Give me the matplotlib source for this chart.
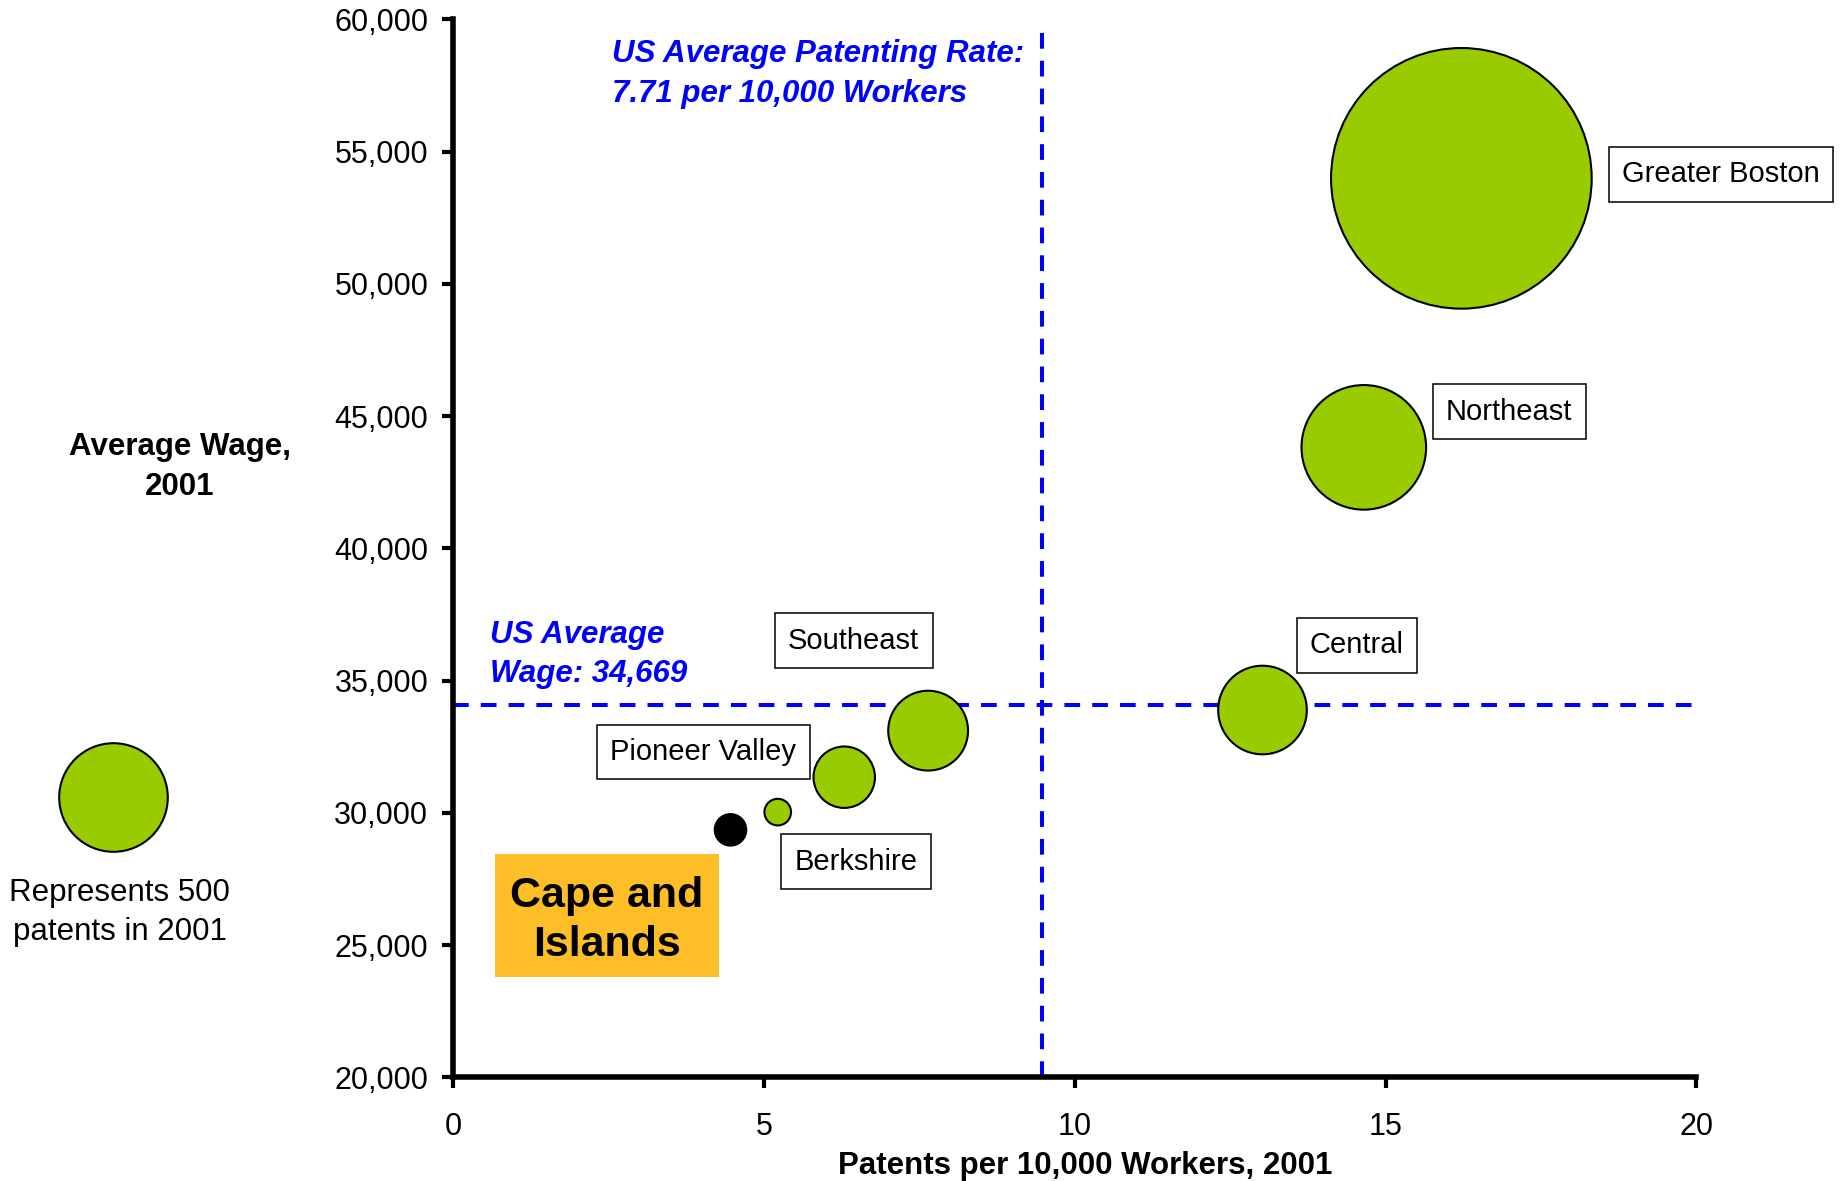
import matplotlib
matplotlib.use('Agg')
import matplotlib.pyplot as plt
from matplotlib.ticker import StrMethodFormatter
from matplotlib.patches import Rectangle

plt.rcParams['font.family'] = 'Liberation Sans'

# data
regions = ['Greater Boston', 'Northeast', 'Central', 'Southeast',
           'Pioneer Valley', 'Berkshire', 'Cape and Islands']
patent_rate = [16.22, 14.65, 13.02, 7.64, 6.29, 5.22, 4.46]
avg_wage = [53990, 43820, 33890, 33110, 31350, 30030, 29360]
patents = [2880, 658, 333, 270, 160, 30, 42]

us_rate_line = 9.48      # where the dashed line is drawn
us_wage_line = 34090
legend_patents = 500

x_ticks = [0, 5, 10, 15, 20]
y_ticks = [20000, 25000, 30000, 35000, 40000, 45000, 50000, 55000, 60000]

# label box positions (data coords)
label_pos = {
    'Greater Boston': (20.40, 54140),
    'Northeast': (16.99, 45170),
    'Central': (14.54, 36330),
    'Southeast': (6.44, 36510),
    'Pioneer Valley': (4.02, 32300),
    'Berkshire': (6.48, 28150),
}

green = '#99CC00'
blue = '#0000FF'
size_per_patent = 6114 / 500  # marker area (pt^2) per patent

fig = plt.figure(figsize=(18.42, 11.81), dpi=100)
ax = fig.add_axes([0.2461, 0.0877, 0.6748, 0.8959])

colors = ['black' if r == 'Cape and Islands' else green for r in regions]
ax.scatter(patent_rate, avg_wage, s=[p * size_per_patent for p in patents],
           c=colors, edgecolors='black', linewidths=1.5, zorder=3, clip_on=False)

# reference lines
ax.plot([us_rate_line, us_rate_line], [20000, 59640], color=blue, lw=2.9,
        dashes=(3.9, 3.0), zorder=2)
ax.plot([0, 20.1], [us_wage_line, us_wage_line], color=blue, lw=2.9,
        dashes=(3.9, 3.0), zorder=2, clip_on=False)

for name, (lx, ly) in label_pos.items():
    ax.text(lx, ly, name, fontsize=21, ha='center', va='center', zorder=4,
            bbox=dict(boxstyle='square,pad=0.46', fc='white', ec='black', lw=1.1))

ax.text(2.55, 59260, 'US Average Patenting Rate:\n7.71 per 10,000 Workers',
        color=blue, fontsize=22.5, fontweight='bold', style='italic',
        ha='left', va='top', linespacing=1.42)
ax.text(0.59, 37310, 'US Average\nWage: 34,669',
        color=blue, fontsize=22.5, fontweight='bold', style='italic',
        ha='left', va='top', linespacing=1.42)

# Cape and Islands callout
ax.add_patch(Rectangle((0.67, 23800), 3.60, 4650, fc='#FDBE27', ec='none', zorder=1))
ax.text(0.67 + 1.80, 25920, 'Cape and\nIslands', fontsize=31,
        fontweight='bold', ha='center', va='center', linespacing=1.3, zorder=2)

# size legend outside the axes
ax.scatter([-5.47], [30616], s=[legend_patents * size_per_patent], c=green,
           edgecolors='black', linewidths=1.5, clip_on=False, zorder=3)
ax.text(-5.37, 27540, 'Represents 500\npatents in 2001', fontsize=22.5,
        ha='center', va='top', linespacing=1.38)

ax.set_xlim(0, 20)
ax.set_ylim(20000, 60000)
ax.set_xticks(x_ticks)
ax.set_yticks(y_ticks)
ax.yaxis.set_major_formatter(StrMethodFormatter('{x:,.0f}'))

for side in ['top', 'right']:
    ax.spines[side].set_visible(False)
for side in ['left', 'bottom']:
    ax.spines[side].set_linewidth(4)
ax.tick_params(axis='both', width=3, length=8, labelsize=22)
ax.tick_params(axis='x', pad=17)
ax.tick_params(axis='y', pad=10)

ax.set_xlabel('Patents per 10,000 Workers, 2001', fontsize=22.5, fontweight='bold')
ax.xaxis.set_label_coords(0.508, -0.070)
ax.set_ylabel('Average Wage,\n2001', fontsize=22.5, fontweight='bold',
              rotation=0, ha='center', va='center', linespacing=1.43)
ax.yaxis.set_label_coords(-0.22, 0.577)

fig.savefig('out.png', dpi=100)
